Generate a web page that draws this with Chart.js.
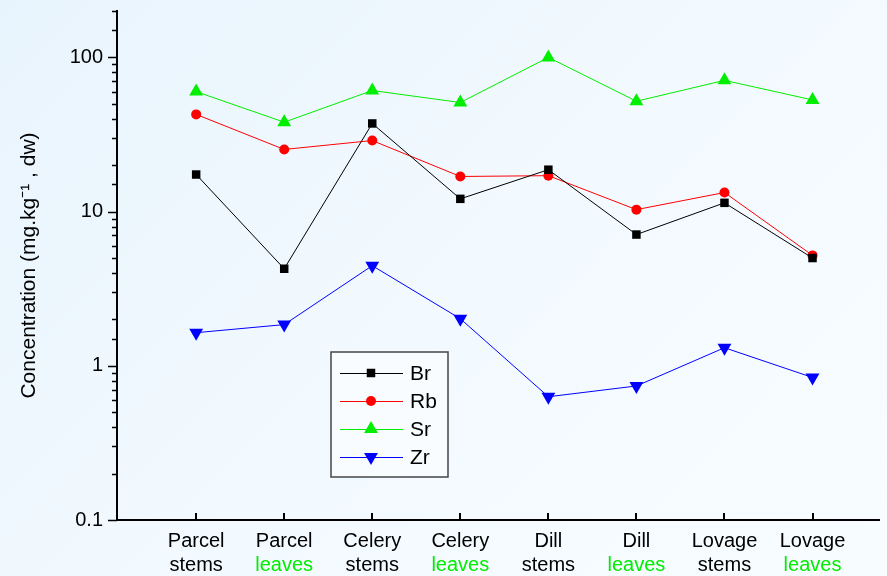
<!DOCTYPE html>
<html>
<head>
<meta charset="utf-8">
<script src="https://cdn.jsdelivr.net/npm/chart.js@4.4.1/dist/chart.umd.min.js"></script>
<style>
  html, body { margin: 0; padding: 0; }
  body {
    width: 887px; height: 576px; overflow: hidden;
    background: linear-gradient(135deg, #e8f4fd 0%, #f3faff 55%, #f7fcff 100%);
  }
  #wrap { position: relative; width: 887px; height: 576px; }
</style>
</head>
<body>
<div id="wrap"><canvas id="chart" width="887" height="576"></canvas></div>
<script>
// ===== 数据 =====
const TOP_LABELS = ['Parcel', 'Parcel', 'Celery', 'Celery', 'Dill', 'Dill', 'Lovage', 'Lovage'];
const BOTTOM_LABELS = ['stems', 'leaves', 'stems', 'leaves', 'stems', 'leaves', 'stems', 'leaves'];

const BR = [17.4, 4.26, 37.3, 12.1, 18.7, 7.1, 11.4, 5.0];
const RB = [42.7, 25.3, 28.9, 16.9, 17.1, 10.3, 13.3, 5.2];
const SR = [60, 38, 61, 51, 100, 52, 71, 53];
const ZR = [1.64, 1.85, 4.46, 2.02, 0.63, 0.74, 1.31, 0.84];

const Y_MAJOR = [0.1, 1, 10, 100];

const FONT = 'Liberation Sans, Arial, sans-serif';
const GREEN = '#00ee00';

function toPoints(values) {
  return values.map((v, i) => ({ x: i, y: v }));
}

// 固定分类刻度位置
function categoryTicks(axis) {
  axis.ticks = TOP_LABELS.map((_, i) => ({ value: i }));
}

// 去掉坐标轴自带的留白，让绘图区贴齐 117..887 / 11..520
function noPad(s) {
  s.paddingTop = 0;
  s.paddingBottom = 0;
  s.paddingLeft = 0;
  s.paddingRight = 0;
}

// ===== 刻度线（x 轴向内，y 轴向外，次刻度更短）=====
const tickMarks = {
  id: 'tickMarks',
  afterDraw(chart) {
    const ctx = chart.ctx;
    const x = chart.scales.x;
    const y = chart.scales.y;
    const area = chart.chartArea;
    ctx.save();
    ctx.strokeStyle = '#000';
    ctx.lineWidth = 2;
    ctx.beginPath();
    x.ticks.forEach(t => {
      const px = Math.round(x.getPixelForValue(t.value));
      ctx.moveTo(px, area.bottom);
      ctx.lineTo(px, area.bottom - 7);
    });
    ctx.stroke();
    ctx.lineWidth = 1.5;
    ctx.beginPath();
    y.ticks.forEach(t => {
      const py = Math.round(y.getPixelForValue(t.value)) + 0.5;
      const major = Y_MAJOR.includes(t.value);
      ctx.moveTo(area.left, py);
      ctx.lineTo(area.left - (major ? 9 : 5), py);
    });
    ctx.stroke();
    ctx.restore();
  }
};

// ===== 图例（左下方框内）=====
const boxLegend = {
  id: 'boxLegend',
  afterDraw(chart) {
    const ctx = chart.ctx;
    const bx = 331, by = 352, bw = 117, bh = 125;
    ctx.save();
    ctx.fillStyle = '#f8fcff';
    ctx.fillRect(bx, by, bw, bh);
    ctx.strokeStyle = '#444';
    ctx.lineWidth = 1.5;
    ctx.strokeRect(bx, by, bw, bh);
    ctx.font = '21px ' + FONT;
    ctx.textBaseline = 'middle';
    chart.data.datasets.forEach((ds, i) => {
      const ly = 373 + i * 28;
      ctx.strokeStyle = ds.borderColor;
      ctx.lineWidth = 1;
      ctx.beginPath();
      ctx.moveTo(340, ly + 0.5);
      ctx.lineTo(403, ly + 0.5);
      ctx.stroke();
      ctx.fillStyle = ds.backgroundColor;
      Chart.helpers.drawPoint(ctx, {
        pointStyle: ds.pointStyle,
        radius: ds.pointRadius,
        rotation: ds.pointRotation || 0,
        borderWidth: 0
      }, 371, ly);
      ctx.fillStyle = '#000';
      ctx.fillText(ds.label, 410, ly + 1);
    });
    ctx.restore();
  }
};

function dataset(label, values, color, style, radius, rotation) {
  return {
    label: label,
    data: toPoints(values),
    borderColor: color,
    backgroundColor: color,
    borderWidth: 1,
    pointStyle: style,
    pointRadius: radius,
    pointHoverRadius: radius,
    pointRotation: rotation,
    pointBorderWidth: 0,
    tension: 0
  };
}

new Chart(document.getElementById('chart'), {
  type: 'line',
  data: {
    datasets: [
      dataset('Br', BR, '#000000', 'rect', 6, 0),
      dataset('Rb', RB, '#ff0000', 'circle', 5, 0),
      dataset('Sr', SR, '#00ee00', 'triangle', 8, 0),
      dataset('Zr', ZR, '#0000ff', 'triangle', 8, 180)
    ]
  },
  options: {
    responsive: false,
    animation: false,
    layout: { padding: { top: 11, right: 0, left: 0, bottom: 0 } },
    plugins: { legend: { display: false }, tooltip: { enabled: false } },
    scales: {
      x: {
        type: 'linear',
        min: -0.899,
        max: 7.755,
        position: 'bottom',
        afterBuildTicks: categoryTicks,
        afterFit: (s) => { s.height = 32; noPad(s); },
        grid: { display: false, drawTicks: false },
        border: { display: true, color: '#000', width: 2 },
        ticks: {
          padding: 9,
          color: '#000',
          font: { family: FONT, size: 20 },
          maxRotation: 0,
          callback: (v) => TOP_LABELS[v]
        }
      },
      x2: {
        type: 'linear',
        min: -0.899,
        max: 7.755,
        position: 'bottom',
        afterBuildTicks: categoryTicks,
        afterFit: (s) => { s.height = 24; noPad(s); },
        grid: { display: false, drawTicks: false },
        border: { display: false },
        ticks: {
          padding: 1,
          font: { family: FONT, size: 20 },
          maxRotation: 0,
          color: (c) => BOTTOM_LABELS[c.index] === 'leaves' ? GREEN : '#000',
          callback: (v) => BOTTOM_LABELS[v]
        }
      },
      y: {
        type: 'logarithmic',
        min: 0.1,
        max: 200,
        afterFit: (s) => { s.width = 117; noPad(s); },
        grid: { display: false, drawTicks: false },
        border: { display: true, color: '#000', width: 2 },
        title: {
          display: true,
          text: 'Concentration (mg.kg⁻¹ , dw)',
          color: '#000',
          font: { family: FONT, size: 21 },
          padding: { top: 17, bottom: 0 }
        },
        ticks: {
          padding: 14,
          color: '#000',
          font: { family: FONT, size: 20 },
          autoSkip: false,
          callback: (v) => Y_MAJOR.includes(v) ? String(v) : ''
        }
      }
    }
  },
  plugins: [tickMarks, boxLegend]
});
</script>
</body>
</html>
